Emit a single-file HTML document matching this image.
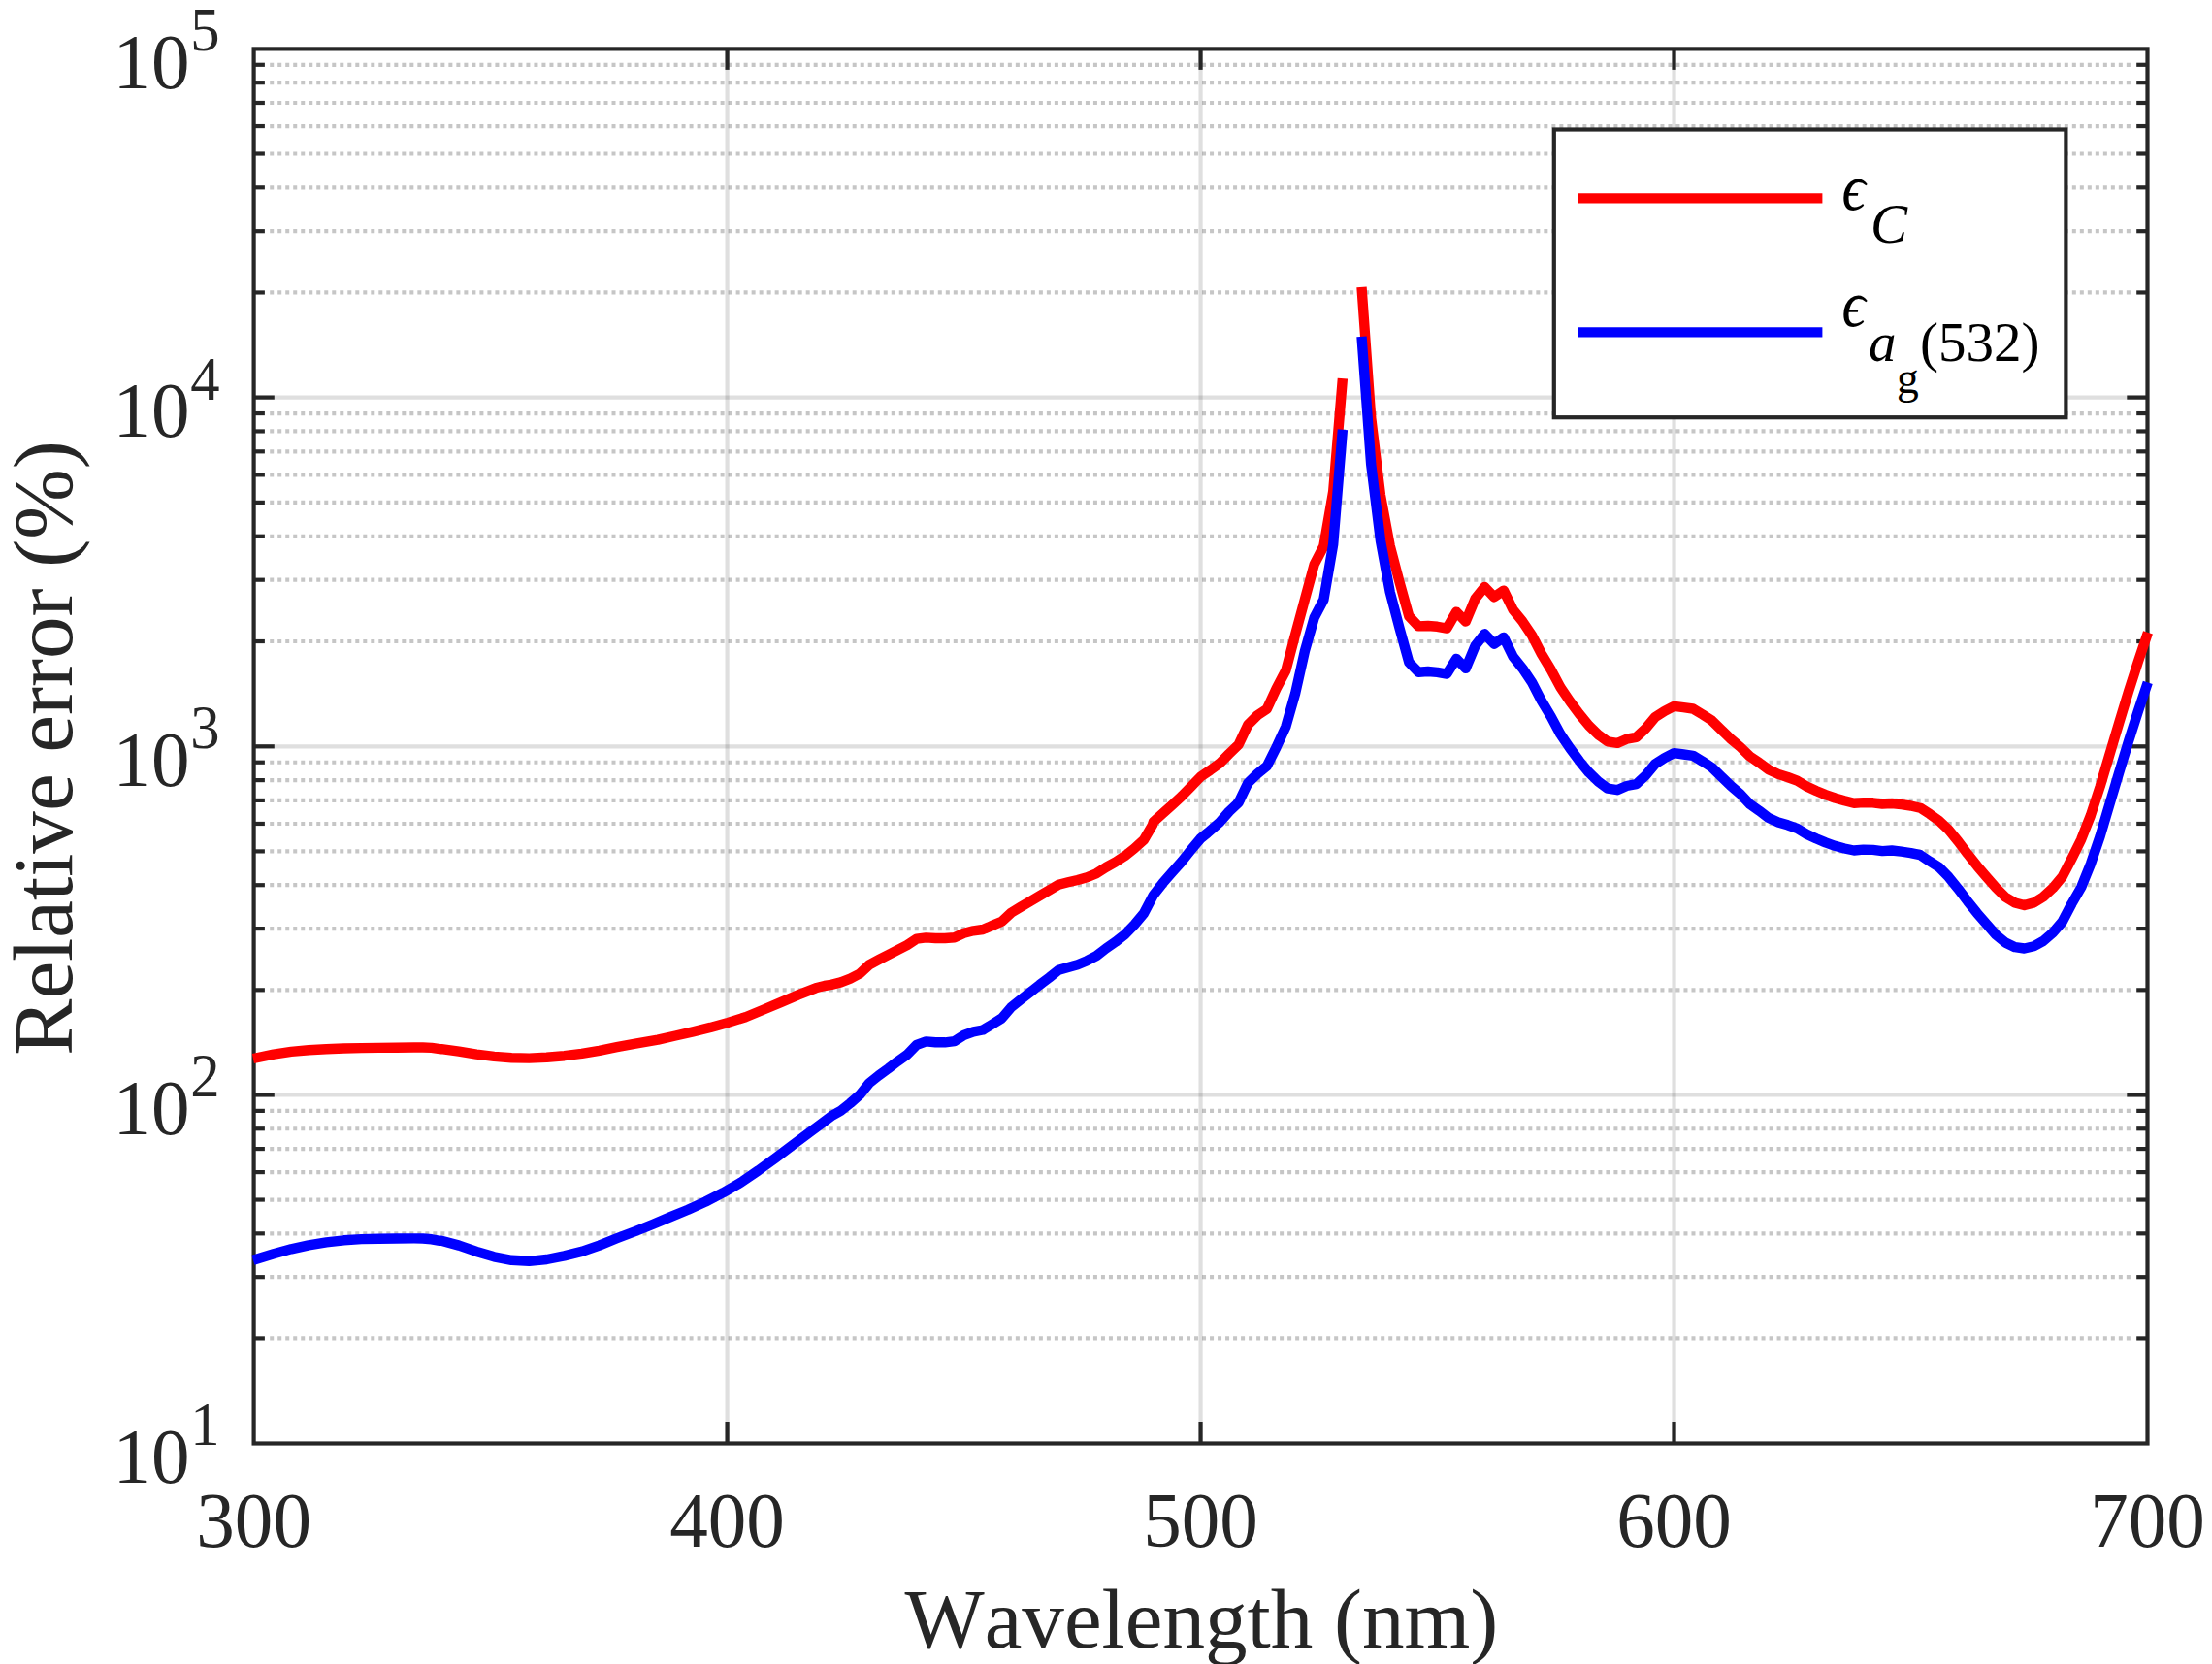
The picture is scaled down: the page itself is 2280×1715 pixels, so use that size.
<!DOCTYPE html>
<html lang="en"><head><meta charset="utf-8"><title>Relative error vs wavelength</title>
<style>html,body{margin:0;padding:0;background:#fff}body{width:2280px;height:1715px;overflow:hidden}svg{display:block}text{font-family:"Liberation Serif",serif;font-kerning:none;font-feature-settings:"kern" 0,"liga" 0}</style></head><body>
<svg width="2280" height="1715" viewBox="0 0 2280 1715">
<rect width="2280" height="1715" fill="#fff"/>
<g fill="none" stroke="#262626" stroke-opacity="0.15" stroke-width="4.2">
<line x1="749.58" y1="50.4" x2="749.58" y2="1487.5"/>
<line x1="1237.55" y1="50.4" x2="1237.55" y2="1487.5"/>
<line x1="1725.53" y1="50.4" x2="1725.53" y2="1487.5"/>
<line x1="261.6" y1="1128.45" x2="2213.5" y2="1128.45"/>
<line x1="261.6" y1="769.30" x2="2213.5" y2="769.30"/>
<line x1="261.6" y1="409.60" x2="2213.5" y2="409.60"/>
</g>
<g fill="none" stroke="#1a1a1a" stroke-opacity="0.25" stroke-width="4.2" stroke-dasharray="4 4.007">
<line x1="278.2" y1="1379.42" x2="2199" y2="1379.42"/>
<line x1="278.2" y1="1316.19" x2="2199" y2="1316.19"/>
<line x1="278.2" y1="1271.33" x2="2199" y2="1271.33"/>
<line x1="278.2" y1="1236.53" x2="2199" y2="1236.53"/>
<line x1="278.2" y1="1208.10" x2="2199" y2="1208.10"/>
<line x1="278.2" y1="1184.07" x2="2199" y2="1184.07"/>
<line x1="278.2" y1="1163.25" x2="2199" y2="1163.25"/>
<line x1="278.2" y1="1144.88" x2="2199" y2="1144.88"/>
<line x1="278.2" y1="1020.34" x2="2199" y2="1020.34"/>
<line x1="278.2" y1="957.09" x2="2199" y2="957.09"/>
<line x1="278.2" y1="912.22" x2="2199" y2="912.22"/>
<line x1="278.2" y1="877.41" x2="2199" y2="877.41"/>
<line x1="278.2" y1="848.98" x2="2199" y2="848.98"/>
<line x1="278.2" y1="824.93" x2="2199" y2="824.93"/>
<line x1="278.2" y1="804.11" x2="2199" y2="804.11"/>
<line x1="278.2" y1="785.73" x2="2199" y2="785.73"/>
<line x1="278.2" y1="661.02" x2="2199" y2="661.02"/>
<line x1="278.2" y1="597.68" x2="2199" y2="597.68"/>
<line x1="278.2" y1="552.74" x2="2199" y2="552.74"/>
<line x1="278.2" y1="517.88" x2="2199" y2="517.88"/>
<line x1="278.2" y1="489.40" x2="2199" y2="489.40"/>
<line x1="278.2" y1="465.32" x2="2199" y2="465.32"/>
<line x1="278.2" y1="444.46" x2="2199" y2="444.46"/>
<line x1="278.2" y1="426.06" x2="2199" y2="426.06"/>
<line x1="278.2" y1="301.45" x2="2199" y2="301.45"/>
<line x1="278.2" y1="238.19" x2="2199" y2="238.19"/>
<line x1="278.2" y1="193.31" x2="2199" y2="193.31"/>
<line x1="278.2" y1="158.50" x2="2199" y2="158.50"/>
<line x1="278.2" y1="130.05" x2="2199" y2="130.05"/>
<line x1="278.2" y1="106.00" x2="2199" y2="106.00"/>
<line x1="278.2" y1="85.16" x2="2199" y2="85.16"/>
<line x1="278.2" y1="66.79" x2="2199" y2="66.79"/>
</g>
<g fill="none" stroke="#262626" stroke-width="4.2">
<line x1="749.58" y1="1487.5" x2="749.58" y2="1466.0"/><line x1="749.58" y1="50.4" x2="749.58" y2="71.9"/>
<line x1="1237.55" y1="1487.5" x2="1237.55" y2="1466.0"/><line x1="1237.55" y1="50.4" x2="1237.55" y2="71.9"/>
<line x1="1725.53" y1="1487.5" x2="1725.53" y2="1466.0"/><line x1="1725.53" y1="50.4" x2="1725.53" y2="71.9"/>
<line x1="261.6" y1="1379.42" x2="272.90000000000003" y2="1379.42"/><line x1="2213.5" y1="1379.42" x2="2202.2" y2="1379.42"/>
<line x1="261.6" y1="1316.19" x2="272.90000000000003" y2="1316.19"/><line x1="2213.5" y1="1316.19" x2="2202.2" y2="1316.19"/>
<line x1="261.6" y1="1271.33" x2="272.90000000000003" y2="1271.33"/><line x1="2213.5" y1="1271.33" x2="2202.2" y2="1271.33"/>
<line x1="261.6" y1="1236.53" x2="272.90000000000003" y2="1236.53"/><line x1="2213.5" y1="1236.53" x2="2202.2" y2="1236.53"/>
<line x1="261.6" y1="1208.10" x2="272.90000000000003" y2="1208.10"/><line x1="2213.5" y1="1208.10" x2="2202.2" y2="1208.10"/>
<line x1="261.6" y1="1184.07" x2="272.90000000000003" y2="1184.07"/><line x1="2213.5" y1="1184.07" x2="2202.2" y2="1184.07"/>
<line x1="261.6" y1="1163.25" x2="272.90000000000003" y2="1163.25"/><line x1="2213.5" y1="1163.25" x2="2202.2" y2="1163.25"/>
<line x1="261.6" y1="1144.88" x2="272.90000000000003" y2="1144.88"/><line x1="2213.5" y1="1144.88" x2="2202.2" y2="1144.88"/>
<line x1="261.6" y1="1128.45" x2="282.8" y2="1128.45"/><line x1="2213.5" y1="1128.45" x2="2192.3" y2="1128.45"/>
<line x1="261.6" y1="1020.34" x2="272.90000000000003" y2="1020.34"/><line x1="2213.5" y1="1020.34" x2="2202.2" y2="1020.34"/>
<line x1="261.6" y1="957.09" x2="272.90000000000003" y2="957.09"/><line x1="2213.5" y1="957.09" x2="2202.2" y2="957.09"/>
<line x1="261.6" y1="912.22" x2="272.90000000000003" y2="912.22"/><line x1="2213.5" y1="912.22" x2="2202.2" y2="912.22"/>
<line x1="261.6" y1="877.41" x2="272.90000000000003" y2="877.41"/><line x1="2213.5" y1="877.41" x2="2202.2" y2="877.41"/>
<line x1="261.6" y1="848.98" x2="272.90000000000003" y2="848.98"/><line x1="2213.5" y1="848.98" x2="2202.2" y2="848.98"/>
<line x1="261.6" y1="824.93" x2="272.90000000000003" y2="824.93"/><line x1="2213.5" y1="824.93" x2="2202.2" y2="824.93"/>
<line x1="261.6" y1="804.11" x2="272.90000000000003" y2="804.11"/><line x1="2213.5" y1="804.11" x2="2202.2" y2="804.11"/>
<line x1="261.6" y1="785.73" x2="272.90000000000003" y2="785.73"/><line x1="2213.5" y1="785.73" x2="2202.2" y2="785.73"/>
<line x1="261.6" y1="769.30" x2="282.8" y2="769.30"/><line x1="2213.5" y1="769.30" x2="2192.3" y2="769.30"/>
<line x1="261.6" y1="661.02" x2="272.90000000000003" y2="661.02"/><line x1="2213.5" y1="661.02" x2="2202.2" y2="661.02"/>
<line x1="261.6" y1="597.68" x2="272.90000000000003" y2="597.68"/><line x1="2213.5" y1="597.68" x2="2202.2" y2="597.68"/>
<line x1="261.6" y1="552.74" x2="272.90000000000003" y2="552.74"/><line x1="2213.5" y1="552.74" x2="2202.2" y2="552.74"/>
<line x1="261.6" y1="517.88" x2="272.90000000000003" y2="517.88"/><line x1="2213.5" y1="517.88" x2="2202.2" y2="517.88"/>
<line x1="261.6" y1="489.40" x2="272.90000000000003" y2="489.40"/><line x1="2213.5" y1="489.40" x2="2202.2" y2="489.40"/>
<line x1="261.6" y1="465.32" x2="272.90000000000003" y2="465.32"/><line x1="2213.5" y1="465.32" x2="2202.2" y2="465.32"/>
<line x1="261.6" y1="444.46" x2="272.90000000000003" y2="444.46"/><line x1="2213.5" y1="444.46" x2="2202.2" y2="444.46"/>
<line x1="261.6" y1="426.06" x2="272.90000000000003" y2="426.06"/><line x1="2213.5" y1="426.06" x2="2202.2" y2="426.06"/>
<line x1="261.6" y1="409.60" x2="282.8" y2="409.60"/><line x1="2213.5" y1="409.60" x2="2192.3" y2="409.60"/>
<line x1="261.6" y1="301.45" x2="272.90000000000003" y2="301.45"/><line x1="2213.5" y1="301.45" x2="2202.2" y2="301.45"/>
<line x1="261.6" y1="238.19" x2="272.90000000000003" y2="238.19"/><line x1="2213.5" y1="238.19" x2="2202.2" y2="238.19"/>
<line x1="261.6" y1="193.31" x2="272.90000000000003" y2="193.31"/><line x1="2213.5" y1="193.31" x2="2202.2" y2="193.31"/>
<line x1="261.6" y1="158.50" x2="272.90000000000003" y2="158.50"/><line x1="2213.5" y1="158.50" x2="2202.2" y2="158.50"/>
<line x1="261.6" y1="130.05" x2="272.90000000000003" y2="130.05"/><line x1="2213.5" y1="130.05" x2="2202.2" y2="130.05"/>
<line x1="261.6" y1="106.00" x2="272.90000000000003" y2="106.00"/><line x1="2213.5" y1="106.00" x2="2202.2" y2="106.00"/>
<line x1="261.6" y1="85.16" x2="272.90000000000003" y2="85.16"/><line x1="2213.5" y1="85.16" x2="2202.2" y2="85.16"/>
<line x1="261.6" y1="66.79" x2="272.90000000000003" y2="66.79"/><line x1="2213.5" y1="66.79" x2="2202.2" y2="66.79"/>
<rect x="261.6" y="50.4" width="1951.9" height="1437.1"/>
</g>
<g fill="none" stroke-width="10.4" stroke-linejoin="round" stroke-linecap="butt">
<polyline stroke="#ff0000" points="260.9,1091.0 282.1,1086.6 300.2,1083.9 318.3,1082.2 336.4,1081.2 354.5,1080.5 372.5,1080.1 390.6,1079.9 408.7,1079.7 426.8,1079.5 435.8,1079.5 444.9,1079.9 453.4,1081.1 455.0,1081.2 473.1,1083.7 491.2,1086.7 509.2,1088.9 527.3,1090.3 545.4,1090.6 563.5,1089.8 581.6,1088.2 599.7,1085.9 617.7,1082.8 635.8,1079.2 655.0,1075.6 678.1,1071.6 696.2,1067.5 714.2,1063.4 732.3,1058.9 750.4,1053.9 768.5,1048.2 786.6,1040.8 804.7,1033.1 822.8,1025.4 840.8,1018.3 849.9,1016.0 856.9,1014.9 866.7,1012.4 876.4,1008.6 886.2,1003.5 896.0,994.4 905.7,989.2 915.5,984.2 925.2,979.2 935.0,974.1 944.8,967.6 954.5,966.4 964.3,967.0 974.0,967.0 983.8,966.2 993.6,961.7 1003.3,959.3 1013.1,958.0 1022.8,953.9 1032.6,949.7 1042.4,940.6 1052.1,934.7 1061.9,929.0 1071.6,923.2 1081.4,917.5 1091.2,911.7 1100.9,909.3 1110.7,907.0 1120.4,904.3 1130.2,900.2 1140.0,893.9 1149.7,888.5 1159.5,882.2 1169.2,874.5 1179.0,865.6 1188.2,849.8 1188.8,847.2 1198.5,838.4 1208.3,829.6 1218.0,820.7 1227.8,810.6 1237.6,800.5 1247.3,793.9 1257.1,786.8 1266.8,777.0 1276.6,767.6 1286.3,747.0 1296.1,737.3 1305.9,730.7 1315.6,709.6 1325.4,691.0 1335.1,654.0 1344.9,617.9 1354.7,581.7 1364.4,563.0 1374.2,506.5 1383.9,390.1"/>
<polyline stroke="#ff0000" points="1403.5,295.8 1413.2,430.5 1423.0,510.4 1432.7,562.5 1442.5,599.7 1452.3,635.2 1462.0,645.4 1471.8,645.0 1481.5,645.8 1491.3,647.6 1501.1,630.6 1510.8,640.6 1520.6,617.1 1530.3,605.0 1540.1,615.3 1549.9,608.6 1559.6,628.5 1569.4,640.6 1579.1,655.0 1588.9,674.0 1598.7,690.3 1608.4,708.4 1618.2,722.9 1627.9,735.9 1637.7,747.8 1647.4,757.2 1657.2,764.4 1667.0,765.9 1676.7,761.7 1686.5,759.9 1696.2,750.9 1706.0,739.1 1715.8,732.8 1725.5,727.9 1735.3,729.2 1745.0,730.5 1754.8,736.4 1764.6,742.7 1774.3,752.2 1784.1,761.7 1793.8,769.9 1803.6,779.5 1813.4,786.1 1823.1,793.3 1832.9,797.9 1842.6,801.0 1852.4,804.6 1862.2,810.5 1871.9,815.0 1881.7,819.1 1891.4,822.5 1901.2,825.3 1911.0,827.7 1920.7,827.1 1930.5,827.3 1940.2,828.5 1950.0,828.0 1959.8,829.2 1969.5,830.5 1979.3,832.7 1989.0,838.9 1998.8,845.9 2008.6,855.2 2018.3,867.1 2028.1,880.1 2037.8,892.3 2047.6,903.9 2057.3,914.9 2067.1,924.6 2076.9,930.4 2086.6,933.0 2096.4,930.4 2106.1,924.4 2115.9,915.3 2125.7,903.6 2135.4,885.0 2145.2,865.2 2154.9,840.5 2164.7,810.5 2174.5,777.5 2184.2,745.0 2194.0,712.8 2203.7,682.5 2214.0,651.8"/>
<polyline stroke="#0000ff" points="260.9,1298.7 282.1,1292.2 300.2,1287.3 318.3,1283.3 336.4,1280.4 354.5,1278.3 372.5,1277.1 390.6,1276.7 408.7,1276.5 426.8,1276.4 435.8,1276.5 444.9,1277.3 453.4,1278.9 455.0,1278.8 473.1,1283.6 491.2,1289.9 509.2,1295.3 527.3,1298.8 545.4,1299.8 563.5,1298.0 581.6,1294.4 599.7,1289.9 617.7,1283.6 635.8,1276.3 655.0,1269.0 673.1,1261.7 691.2,1254.1 709.2,1246.8 727.3,1238.5 745.4,1229.2 763.5,1218.8 781.6,1206.4 799.7,1193.3 817.7,1179.7 835.8,1166.2 844.9,1159.3 856.9,1150.3 866.7,1144.7 876.4,1137.0 886.2,1128.4 896.0,1116.2 905.7,1108.5 915.5,1101.4 925.2,1093.9 935.0,1087.0 944.8,1076.9 954.5,1073.4 964.3,1074.3 974.0,1074.3 983.8,1073.2 993.6,1066.9 1003.3,1063.3 1013.1,1061.5 1022.8,1055.6 1032.6,1049.5 1042.4,1038.0 1052.1,1030.3 1061.9,1022.7 1071.6,1015.0 1081.4,1007.6 1091.2,999.7 1100.9,997.0 1110.7,994.3 1120.4,990.2 1130.2,985.2 1140.0,977.5 1149.7,970.8 1159.5,963.1 1169.2,953.1 1179.0,941.4 1188.8,922.6 1198.5,910.2 1208.3,898.9 1218.0,888.0 1227.8,875.8 1237.6,864.1 1244.7,858.4 1257.1,847.6 1266.8,836.5 1276.6,827.3 1286.3,807.1 1296.1,797.6 1305.9,789.5 1315.6,770.1 1325.4,748.8 1335.1,714.8 1344.9,671.2 1354.7,636.5 1364.4,618.0 1374.2,561.0 1383.9,442.8"/>
<polyline stroke="#0000ff" points="1403.5,346.8 1413.2,478.5 1423.0,557.5 1432.7,610.0 1442.5,647.2 1452.3,682.7 1462.0,692.7 1471.8,692.0 1481.5,692.9 1491.3,694.6 1501.1,678.9 1510.8,688.9 1520.6,665.4 1530.3,653.3 1540.1,663.6 1549.9,656.9 1559.6,676.8 1569.4,688.9 1579.1,703.3 1588.9,722.3 1598.7,738.6 1608.4,756.7 1618.2,771.2 1627.9,784.2 1637.7,796.1 1647.4,805.5 1657.2,812.7 1667.0,814.2 1676.7,810.0 1686.5,808.2 1696.2,799.2 1706.0,787.4 1715.8,781.1 1725.5,776.2 1735.3,777.5 1745.0,778.8 1754.8,784.7 1764.6,791.0 1774.3,800.5 1784.1,810.0 1793.8,818.2 1803.6,828.8 1813.4,835.7 1823.1,843.1 1832.9,847.4 1842.6,850.3 1852.4,853.9 1862.2,859.8 1871.9,864.3 1881.7,868.4 1891.4,871.8 1901.2,874.5 1911.0,876.5 1920.7,875.6 1930.5,875.9 1940.2,877.1 1950.0,876.5 1959.8,877.7 1969.5,879.1 1979.3,881.2 1989.0,887.7 1998.8,893.9 2008.6,903.9 2018.3,915.9 2028.1,928.9 2037.8,941.1 2047.6,952.4 2057.3,963.5 2067.1,971.5 2076.9,976.2 2086.6,977.5 2096.4,975.3 2106.1,969.9 2115.9,961.4 2125.7,950.0 2135.4,931.5 2145.2,914.5 2154.9,890.5 2164.7,861.7 2174.5,828.7 2184.2,796.2 2194.0,764.0 2203.7,733.7 2213.8,703.3"/>
</g>
<g fill="#262626" font-size="79.17px">
<text transform="translate(261.60 1593.8) scale(1 1.015)" text-anchor="middle">300</text>
<text transform="translate(749.58 1593.8) scale(1 1.015)" text-anchor="middle">400</text>
<text transform="translate(1237.55 1593.8) scale(1 1.015)" text-anchor="middle">500</text>
<text transform="translate(1725.53 1593.8) scale(1 1.015)" text-anchor="middle">600</text>
<text transform="translate(2213.50 1593.8) scale(1 1.015)" text-anchor="middle">700</text>
<text transform="translate(116.4 1528.00) scale(1 1.017)">10</text><text transform="translate(196.3 1489.40) scale(1 1.045)" font-size="60.6px">1</text>
<text transform="translate(116.4 1168.95) scale(1 1.017)">10</text><text transform="translate(196.3 1130.35) scale(1 1.045)" font-size="60.6px">2</text>
<text transform="translate(116.4 809.80) scale(1 1.017)">10</text><text transform="translate(196.3 771.20) scale(1 1.045)" font-size="60.6px">3</text>
<text transform="translate(116.4 450.10) scale(1 1.017)">10</text><text transform="translate(196.3 411.50) scale(1 1.045)" font-size="60.6px">4</text>
<text transform="translate(116.4 90.85) scale(1 1.017)">10</text><text transform="translate(196.3 52.25) scale(1 1.045)" font-size="60.6px">5</text>
</g>
<g fill="#262626" font-size="87.1px" text-anchor="middle">
<text x="1238.4" y="1698.2">Wavelength (nm)</text>
<text transform="translate(73.8 770.9) rotate(-90)">Relative error (%)</text>
</g>
<rect x="1601.8" y="133.5" width="527.6" height="296.7" fill="#fff" stroke="#262626" stroke-width="4.2"/>
<line x1="1626.7" y1="204.4" x2="1878.4" y2="204.4" stroke="#ff0000" stroke-width="10.4"/>
<line x1="1626.7" y1="342.4" x2="1878.4" y2="342.4" stroke="#0000ff" stroke-width="10.4"/>
<g fill="#000">
<text transform="translate(1898.6 215.6) scale(0.9 1)" font-size="67px" font-style="italic">ϵ</text>
<text x="1928" y="250.3" font-size="57px" font-style="italic">C</text>
<text transform="translate(1898.6 336.3) scale(0.9 1)" font-size="67px" font-style="italic">ϵ</text>
<text x="1926" y="371.7" font-size="57px" font-style="italic">a</text>
<text x="1955" y="405" font-size="45.6px">g</text>
<text x="1979" y="371.7" font-size="57px">(532)</text>
</g>
</svg></body></html>
